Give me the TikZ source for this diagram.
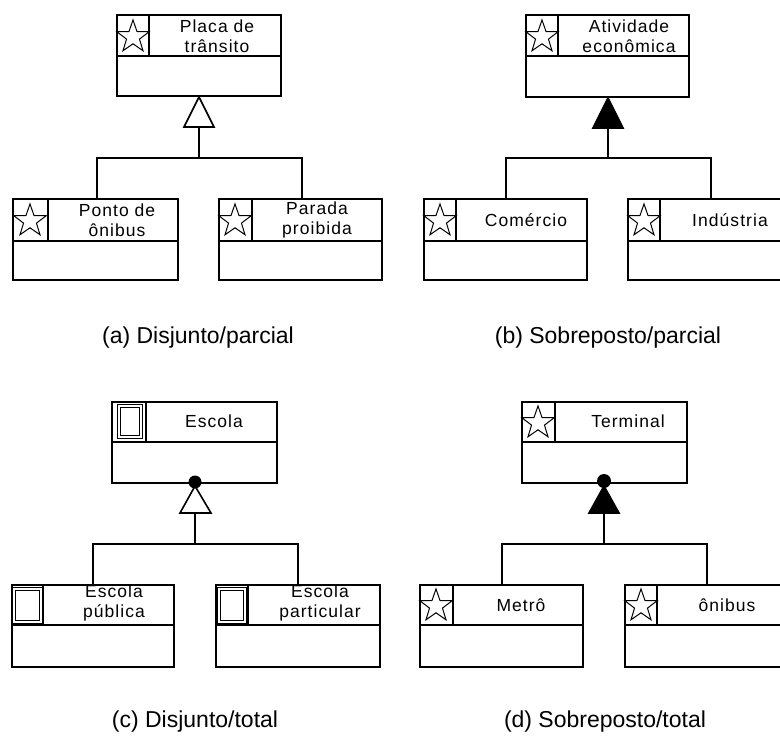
\documentclass[tikz,border=0pt]{standalone}
\usepackage{fontspec}
\setmainfont{Liberation Sans}
\newfontfamily\lblfont[LetterSpace=6]{Liberation Sans}
\usetikzlibrary{shapes.geometric,fit}
\begin{document}
\begin{tikzpicture}[x=1pt,y=-1pt,
  box/.style={draw, line width=1.6pt, inner sep=0pt, fill=white},
  div/.style={line width=1.6pt},
  conn/.style={line width=1.6pt},
  lbl/.style={font=\lblfont\fontsize{17.5}{20}\selectfont, align=center, inner sep=0pt},
  staricon/.style={star, star points=5, star point ratio=2.5, draw, line width=1pt, minimum size=34pt, inner sep=0pt},
  dblicon/.style={double, double distance=1.2pt, line width=1.1pt},
  captext/.style={font=\fontsize{23}{27}\selectfont, inner sep=0pt},
  hollowtri/.style={line width=1.6pt, fill=white, line join=miter},
  filledtri/.style={line width=1.6pt, fill=black, line join=miter},
  dotmark/.style={circle, fill=black, inner sep=0pt, minimum size=13pt}]
\clip (0,0) rectangle (780,736);
\fill[white] (0,0) rectangle (780,736);

% ---------------- (a) ----------------
\node[box, fit={(117,15) (281,96)}] (A) {};
\draw[div] (117,56) -- (281,56); \draw[div] (149,15) -- (149,56);
\node[staricon] (Ai) at (133,37) {};
\node[lbl] (Al) at (217,36) {Placa de\\trânsito};
\node[box, fit={(13,199) (178,280)}] (A1) {};
\draw[div] (13,241) -- (178,241); \draw[div] (48,199) -- (48,241);
\node[staricon] (A1i) at (30,221) {};
\node[lbl] (A1l) at (117,220) {Ponto de\\ônibus};
\node[box, fit={(219,199) (382,280)}] (A2) {};
\draw[div] (219,241) -- (382,241); \draw[div] (252,199) -- (252,241);
\node[staricon] (A2i) at (235,221) {};
\node[lbl] (A2l) at (317,220) {Parada\\proibida};
\coordinate (tAa) at (199,97); \coordinate (tAb) at (199,127); \coordinate (jA) at (199,158);
\draw[hollowtri] (tAa) -- (184,127) -- (214,127) -- cycle;
\draw[conn] (tAb) -- (jA);
\draw[conn] ([xshift=1.5pt]A1.north) |- (jA) -| ([xshift=1.5pt]A2.north);
\node[captext] (capA) at (198,338) {(a) Disjunto/parcial};

% ---------------- (b) ----------------
\node[box, fit={(526,15) (689,97)}] (B) {};
\draw[div] (526,56) -- (689,56); \draw[div] (558,15) -- (558,56);
\node[staricon] (Bi) at (542,37) {};
\node[lbl] (Bl) at (629,36) {Atividade\\econômica};
\node[box, fit={(424,199) (587,280)}] (B1) {};
\draw[div] (424,241) -- (587,241); \draw[div] (456,199) -- (456,241);
\node[staricon] (B1i) at (440,221) {};
\node[lbl] (B1l) at (526,220) {Comércio};
\node[box, fit={(628,199) (800,280)}] (B2) {};
\draw[div] (628,241) -- (800,241); \draw[div] (660,199) -- (660,241);
\node[staricon] (B2i) at (644,221) {};
\node[lbl] (B2l) at (730,220) {Indústria};
\coordinate (tBa) at (608,98); \coordinate (tBb) at (608,128); \coordinate (jB) at (608,158);
\draw[filledtri] (tBa) -- (593,128) -- (623,128) -- cycle;
\draw[conn] (tBb) -- (jB);
\coordinate (B2n) at (711,199);
\draw[conn] ([xshift=0.5pt]B1.north) |- (jB) -| (B2n);
\node[captext] (capB) at (608,338) {(b) Sobreposto/parcial};

% ---------------- (c) ----------------
\node[box, fit={(112,402) (277,483)}] (C) {};
\draw[div] (112,442) -- (277,442); \draw[div] (146,402) -- (146,442);
\draw[dblicon] (119,406) rectangle (141,437);
\node[lbl] (Cl) at (214,421) {Escola};
\node[box, fit={(12,585) (174,667)}] (C1) {};
\draw[div] (12,625) -- (174,625); \draw[div] (43,585) -- (43,625);
\draw[dblicon] (14,589) rectangle (41,622);
\node[lbl] (C1l) at (114,603) {Escola\\pública};
\node[box, fit={(216,585) (380,667)}] (C2) {};
\draw[div] (216,625) -- (380,625); \draw[div] (248,585) -- (248,625);
\draw[dblicon] (219,589) rectangle (245,622);
\node[lbl] (C2l) at (320,603) {Escola\\particular};
\coordinate (tCa) at (195,486); \coordinate (tCb) at (195,513); \coordinate (jC) at (195,544);
\draw[hollowtri] (tCa) -- (180,513) -- (211,513) -- cycle;
\node[dotmark] (dC) at (195,482) {};
\draw[conn] (tCb) -- (jC);
\draw[conn] (C1.north) |- (jC) -| (C2.north);
\node[captext] (capC) at (195,722) {(c) Disjunto/total};

% ---------------- (d) ----------------
\node[box, fit={(522,402) (687,483)}] (D) {};
\draw[div] (522,442) -- (687,442); \draw[div] (555,402) -- (555,442);
\node[staricon] (Di) at (538,423) {};
\node[lbl] (Dl) at (628,421) {Terminal};
\node[box, fit={(420,585) (583,667)}] (D1) {};
\draw[div] (420,625) -- (583,625); \draw[div] (453,585) -- (453,625);
\node[staricon] (D1i) at (436,606) {};
\node[lbl] (D1l) at (521,605) {Metrô};
\node[box, fit={(625,585) (800,667)}] (D2) {};
\draw[div] (625,625) -- (800,625); \draw[div] (657,585) -- (657,625);
\node[staricon] (D2i) at (641,606) {};
\node[lbl] (D2l) at (727,605) {ônibus};
\coordinate (tDa) at (604,486); \coordinate (tDb) at (604,513); \coordinate (jD) at (604,544);
\draw[filledtri] (tDa) -- (589,513) -- (619,513) -- cycle;
\node[dotmark, minimum size=14pt] (dD) at (604,481) {};
\draw[conn] (tDb) -- (jD);
\coordinate (D2n) at (707,585);
\draw[conn] ([xshift=0.5pt]D1.north) |- (jD) -| (D2n);
\node[captext] (capD) at (605,722) {(d) Sobreposto/total};
\end{tikzpicture}
\end{document}
